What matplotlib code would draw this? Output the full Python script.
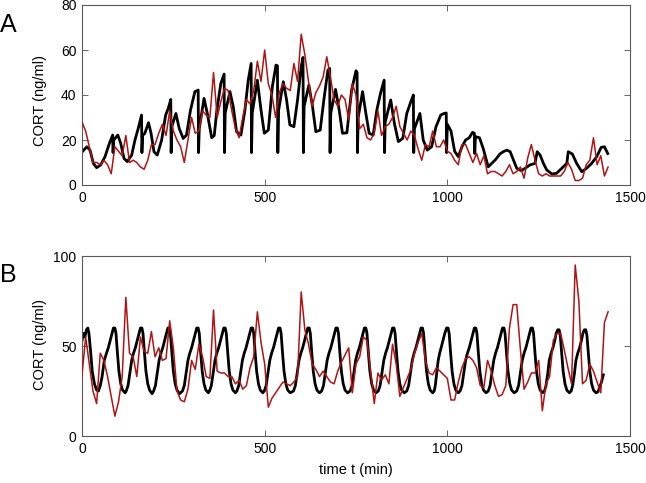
import numpy as np
import matplotlib
matplotlib.use("Agg")
import matplotlib.pyplot as plt

plt.rcParams['font.family'] = ['Liberation Sans', 'DejaVu Sans']

# Panel A: model (black) vertices and 10-min data (red)
model_a_t = [2, 13, 22, 31, 40, 51, 63, 75, 84, 85, 87, 98, 106, 115, 124, 136, 145, 154,
             163, 164, 166, 172, 182, 189, 197, 206, 218, 229, 236, 243, 244, 246, 257, 266,
             277, 286, 297, 309, 318, 319, 321, 334, 343, 355, 362, 369, 380, 389, 390, 392,
             405, 414, 423, 435, 446, 455, 463, 464, 466, 480, 490, 499, 510, 521, 531, 535,
             536, 538, 551, 560, 569, 580, 590, 600, 605, 606, 608, 621, 631, 640, 652, 662,
             673, 678, 679, 681, 694, 704, 713, 725, 738, 750, 753, 754, 756, 768, 777, 786,
             797, 807, 817, 827, 828, 830, 845, 855, 866, 878, 889, 900, 907, 908, 910, 925,
             934, 945, 957, 969, 982, 991, 997, 998, 1000, 1010, 1020, 1030, 1040, 1050, 1060,
             1069, 1074, 1075, 1077, 1088, 1098, 1112, 1131, 1144, 1153, 1163, 1172, 1181,
             1190, 1202, 1213, 1226, 1240, 1246, 1254, 1263, 1272, 1286, 1299, 1313, 1327,
             1331, 1342, 1354, 1368, 1381, 1395, 1409, 1421, 1430, 1439]
model_a = [15, 17, 15.5, 9.6, 7.7, 8.9, 12.6, 18.5, 22.2, 14.4, 20, 22.2, 18.5, 11.8, 10.4, 13.3, 20, 25.2,
           31.1, 14.4, 22, 23, 27.7, 23, 14.8, 13.3, 20, 31.1, 34, 38, 14.4, 26, 31.8, 25.2,
           20.7, 22.2, 33.3, 41.5, 42.2, 14.4, 25, 38.5, 31.8, 21, 22, 33, 45.2, 49.3, 14.4, 32,
           41.5, 34.8, 23.7, 22.2, 33.3, 46.6, 54, 14.4, 32, 46.6, 33.3, 23, 24.4, 43.7, 53.3, 53,
           14.4, 33, 45.9, 37.8, 26.7, 25.9, 37.8, 52.6, 56.7, 14.4, 35, 44.4, 34.8, 23.7, 24.4, 37.8,
           51, 51.8, 14.4, 32, 42.5, 33.3, 23, 23.2, 42.2, 50.8, 50, 14.4, 30, 41.5, 31.8, 23,
           22.2, 33.3, 40.7, 46.6, 14.4, 28, 37.8, 27.4, 19.3, 20.7, 31.8, 37, 40, 14.4, 25, 31.8,
           20, 15.5, 17, 25.9, 31.1, 31.8, 32, 14.4, 27, 24, 15, 12.6, 17, 20, 21,
           23.4, 23, 14, 21.5, 21, 16.3, 8.1, 11.1, 13.8, 14.8, 15.5, 14.8, 11.1,
           7.4, 6.4, 7.4, 8.9, 9.6, 14.8, 13.3, 9.6, 6.7, 4.9, 5.2, 7.4, 9.6,
           14.8, 13.8, 9.6, 5.9, 7.4, 9.6, 12.6, 16.7, 17, 14]
data_a = [28, 24, 17, 10, 10, 9, 11, 9, 5, 17, 15, 13, 22, 10, 11, 10, 8, 7, 11, 18,
          18, 23, 27, 22, 33, 24, 20, 17, 10, 20, 30, 23, 24, 33, 31, 30, 50,
          30, 37, 43, 42, 33, 25, 21, 30, 38, 36, 42, 55, 46, 60, 45, 40, 30, 41, 45,
          43, 42, 54, 46, 67, 58, 46, 35, 41, 44, 48, 57, 48, 38, 35, 40, 38, 29,
          45, 40, 25, 27, 21, 20, 23, 33, 22, 26, 27, 30, 35, 26, 23, 20, 24, 22, 16,
          11, 18, 17, 24, 17, 17, 20, 15, 14, 11, 9, 18, 18, 14, 10, 14, 9, 13,
          5, 6, 6, 5, 4, 6, 9, 5, 6, 8, 3, 12, 18, 11, 5, 4, 5, 4, 4, 4, 4, 6, 10,
          7, 2, 2, 3, 9, 11, 21, 9, 13, 4, 8]

# Panel B: model vertices, one row per ultradian cycle
model_b_t = [0, 4, 8, 12, 16, 19, 24, 28, 34, 40, 45,
             50, 55, 61, 67, 72, 77, 82, 86, 90, 93, 97, 101, 106, 111, 118,
             121, 126, 131, 136, 141, 146, 151, 156, 160, 164, 167, 171, 175, 180, 185, 192,
             196, 201, 206, 211, 216, 221, 226, 231, 235, 239, 242, 246, 250, 255, 260, 267,
             275, 280, 285, 290, 295, 300, 305, 310, 314, 318, 321, 325, 329, 334, 339, 346,
             349, 354, 359, 364, 369, 374, 379, 384, 388, 392, 395, 399, 403, 408, 413, 420,
             424, 429, 434, 439, 444, 449, 454, 459, 463, 467, 470, 474, 478, 483, 488, 495,
             499, 504, 509, 514, 519, 524, 529, 534, 538, 542, 545, 549, 553, 558, 563, 570,
             579, 584, 589, 594, 599, 604, 609, 614, 618, 622, 625, 629, 633, 638, 643, 650,
             656, 661, 666, 671, 676, 681, 686, 691, 695, 699, 702, 706, 710, 715, 720, 727,
             734, 739, 744, 749, 754, 759, 764, 769, 773, 777, 780, 784, 788, 793, 798, 805,
             811, 816, 821, 826, 831, 836, 841, 846, 850, 854, 857, 861, 865, 870, 875, 882,
             889, 894, 899, 904, 909, 914, 919, 924, 928, 932, 935, 939, 943, 948, 953, 960,
             964, 967, 971, 975, 979, 983, 988, 993, 998, 1002, 1005, 1009, 1013, 1018, 1023, 1030,
             1035, 1040, 1045, 1050, 1055, 1060, 1065, 1070, 1074, 1078, 1081, 1085, 1089, 1094, 1099, 1106,
             1112, 1117, 1122, 1127, 1132, 1137, 1142, 1147, 1151, 1155, 1158, 1162, 1166, 1171, 1176, 1183,
             1190, 1195, 1200, 1205, 1210, 1215, 1220, 1225, 1229, 1233, 1236, 1240, 1244, 1249, 1254, 1261,
             1266, 1270, 1275, 1279, 1284, 1289, 1294, 1298, 1302, 1306, 1309, 1313, 1317, 1322, 1327, 1334,
             1339, 1343, 1348, 1352, 1357, 1362, 1367, 1371, 1375, 1379, 1382, 1386, 1390, 1395, 1400, 1407,
             1412, 1417, 1422, 1427]
model_b = [53, 57, 55, 59, 60, 57, 46, 36, 29, 25.5, 25,
           28, 33, 42, 46, 49, 53, 57, 60, 60, 57, 46, 36, 29, 25.5, 24,
           25, 28, 35, 42, 46, 49, 53, 57, 60, 60, 57, 46, 36, 29, 25.5, 23.5,
           25, 28, 35, 42, 46, 49, 53, 57, 60, 60, 57, 46, 36, 29, 25.5, 23.5,
           25, 28, 35, 42, 46, 49, 53, 57, 60, 60, 57, 46, 36, 29, 25.5, 24,
           25, 28, 35, 42, 46, 49, 53, 57, 60, 60, 57, 46, 36, 29, 25.5, 24,
           25, 28, 35, 42, 46, 49, 53, 57, 60, 60, 57, 46, 36, 29, 25.5, 24,
           25, 28, 35, 42, 46, 49, 53, 57, 60, 60, 57, 46, 36, 29, 25.5, 24,
           25, 28, 35, 42, 46, 49, 53, 57, 60, 60, 57, 46, 36, 29, 25.5, 24,
           25, 28, 35, 42, 46, 49, 53, 57, 60, 60, 57, 46, 36, 29, 25.5, 24,
           25, 28, 35, 42, 46, 49, 53, 57, 60, 60, 57, 46, 36, 29, 25.5, 24,
           25, 28, 35, 42, 46, 49, 53, 57, 60, 60, 57, 46, 36, 29, 25.5, 24,
           25, 28, 35, 42, 46, 49, 53, 57, 60, 60, 57, 46, 36, 29, 25.5, 24,
           25, 28, 35, 42, 46, 49, 53, 57, 60, 60, 57, 46, 36, 29, 25.5, 24,
           25, 28, 35, 42, 46, 49, 53, 57, 60, 60, 57, 46, 36, 29, 25.5, 24,
           25, 28, 35, 42, 46, 49, 53, 57, 60, 60, 57, 46, 36, 29, 25.5, 24,
           25, 28, 35, 42, 46, 49, 53, 57, 60, 60, 57, 46, 36, 29, 25.5, 24,
           25, 28, 35, 42, 46, 49, 53, 57, 59, 59, 56, 46, 36, 29, 25.5, 24,
           25, 28, 35, 42, 46, 49, 53, 57, 59, 59, 56, 46, 36, 29, 25.5, 24,
           24.5, 27, 30, 34]
data_b = [34, 55, 40, 25, 18, 46, 42, 33, 22, 11, 19, 33, 77, 46, 44, 33, 55, 47, 46, 58,
          44, 49, 42, 43, 64, 49, 25, 20, 19, 26, 42, 37, 51, 44, 33, 32, 70,
          36, 35, 35, 33, 33, 29, 31, 26, 28, 38, 44, 69, 52, 40, 16, 21, 24, 27, 30,
          29, 28, 30, 33, 80, 59, 51, 40, 37, 33, 36, 33, 30, 29, 36, 41, 45, 49,
          24, 40, 44, 55, 53, 36, 18, 35, 31, 34, 29, 51, 40, 22, 27, 32, 37, 46, 52,
          57, 42, 35, 34, 38, 36, 34, 32, 20, 20, 30, 38, 43, 44, 42, 38, 28, 27,
          42, 36, 28, 22, 23, 28, 60, 73, 73, 48, 26, 30, 35, 35, 42, 14, 29, 33, 53,
          57, 57, 48, 38, 29, 95, 75, 29, 31, 40, 36, 30, 24, 63, 69]

red = '#b01414'
fig = plt.figure(figsize=(6.46, 4.83), dpi=100)
ax_a = fig.add_axes([82 / 646, 1 - 185 / 483, 548 / 646, 180 / 483])
ax_b = fig.add_axes([82 / 646, 1 - 436 / 483, 548 / 646, 180 / 483])

ax_a.plot(model_a_t, model_a, color='k', lw=2.0, zorder=2, solid_joinstyle='round')
ax_a.plot(np.arange(len(data_a)) * 10, data_a, color=red, lw=1.1, zorder=3)
ax_b.plot(model_b_t, model_b, color='k', lw=2.0, zorder=2, solid_joinstyle='round')
ax_b.plot(np.arange(len(data_b)) * 10, data_b, color=red, lw=1.1, zorder=3)

ax_a.set_ylim(0, 80)
ax_a.set_yticks([0, 20, 40, 60, 80])
ax_b.set_ylim(0, 100)
ax_b.set_yticks([0, 50, 100])
for ax in (ax_a, ax_b):
    ax.set_xlim(0, 1500)
    ax.set_xticks([0, 500, 1000, 1500])
    ax.tick_params(direction='in', top=True, right=True, length=4, width=0.6,
                   labelsize=10, color='0.3', pad=4)
    for s in ax.spines.values():
        s.set_color('0.35')
        s.set_linewidth(0.8)

fig.text(40 / 646, 1 - 100 / 483, 'CORT (ng/ml)', rotation=90, ha='center', va='center', fontsize=10.5)
fig.text(40 / 646, 1 - 345 / 483, 'CORT (ng/ml)', rotation=90, ha='center', va='center', fontsize=10.5)
fig.text(356 / 646, 1 - 470 / 483, 'time t (min)', ha='center', va='center', fontsize=10.5)
fig.text(0.0, 1 - 32 / 483, 'A', fontsize=18, va='baseline')
fig.text(0.0, 1 - 282 / 483, 'B', fontsize=18, va='baseline')

fig.savefig('out.png', dpi=100)
